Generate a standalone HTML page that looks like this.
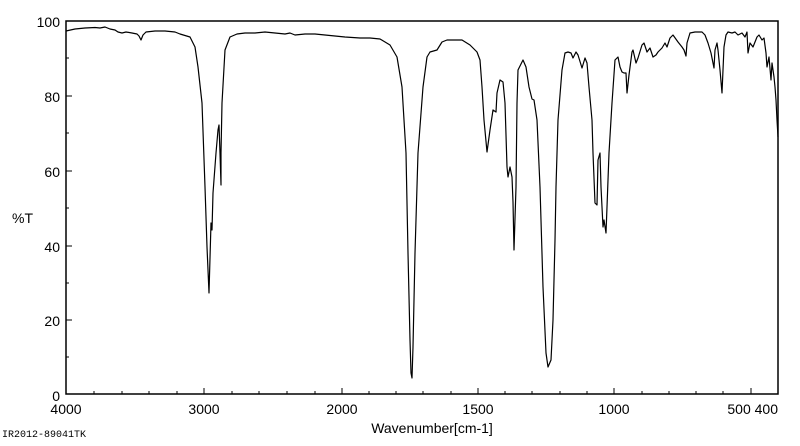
<!DOCTYPE html>
<html><head><meta charset="utf-8"><style>
body{margin:0;background:#fff;width:800px;height:441px;overflow:hidden}
svg text{font-family:"Liberation Sans",sans-serif;fill:#000}
</style></head><body>
<svg width="800" height="441" viewBox="0 0 800 441" xmlns="http://www.w3.org/2000/svg">
<rect x="66" y="21" width="712" height="373" fill="none" stroke="#000" stroke-width="1.5"/>
<g stroke="#000" stroke-width="1">
<!-- y ticks -->
<line x1="66" y1="96" x2="72" y2="96"/><line x1="66" y1="171" x2="72" y2="171"/><line x1="66" y1="246" x2="72" y2="246"/><line x1="66" y1="320" x2="72" y2="320"/>
<line x1="66" y1="58" x2="69" y2="58"/><line x1="66" y1="133" x2="69" y2="133"/><line x1="66" y1="208" x2="69" y2="208"/><line x1="66" y1="283" x2="69" y2="283"/><line x1="66" y1="357" x2="69" y2="357"/>
<!-- x major -->
<line x1="204" y1="394" x2="204" y2="388"/><line x1="342" y1="394" x2="342" y2="388"/><line x1="478" y1="394" x2="478" y2="388"/><line x1="614" y1="394" x2="614" y2="388"/><line x1="751" y1="394" x2="751" y2="388"/>
<!-- x minor -->
<line x1="94" y1="394" x2="94" y2="391"/><line x1="122" y1="394" x2="122" y2="391"/><line x1="149" y1="394" x2="149" y2="391"/><line x1="177" y1="394" x2="177" y2="391"/>
<line x1="232" y1="394" x2="232" y2="391"/><line x1="259" y1="394" x2="259" y2="391"/><line x1="287" y1="394" x2="287" y2="391"/><line x1="315" y1="394" x2="315" y2="391"/>
<line x1="369" y1="394" x2="369" y2="391"/><line x1="396" y1="394" x2="396" y2="391"/><line x1="423" y1="394" x2="423" y2="391"/><line x1="451" y1="394" x2="451" y2="391"/>
<line x1="505" y1="394" x2="505" y2="391"/><line x1="532" y1="394" x2="532" y2="391"/><line x1="560" y1="394" x2="560" y2="391"/><line x1="587" y1="394" x2="587" y2="391"/>
<line x1="642" y1="394" x2="642" y2="391"/><line x1="669" y1="394" x2="669" y2="391"/><line x1="696" y1="394" x2="696" y2="391"/><line x1="723" y1="394" x2="723" y2="391"/>
</g>
<g font-size="14">
<text x="60" y="27" text-anchor="end">100</text>
<text x="60" y="102" text-anchor="end">80</text>
<text x="60" y="177" text-anchor="end">60</text>
<text x="60" y="252" text-anchor="end">40</text>
<text x="60" y="326" text-anchor="end">20</text>
<text x="60" y="401" text-anchor="end">0</text>
<text x="12" y="223">%T</text>
<text x="66" y="414" text-anchor="middle">4000</text>
<text x="204" y="414" text-anchor="middle">3000</text>
<text x="342" y="414" text-anchor="middle">2000</text>
<text x="478" y="414" text-anchor="middle">1500</text>
<text x="614" y="414" text-anchor="middle">1000</text>
<text x="778" y="414" text-anchor="end">500 400</text>
<text x="432" y="433" text-anchor="middle">Wavenumber[cm-1]</text>
</g>
<text x="2" y="437" font-size="10" style="font-family:'Liberation Mono',monospace">IR2012-89041TK</text>
<polyline fill="none" stroke="#000" stroke-width="1.2" stroke-linejoin="round" points="
66,31 75,29 85,28 95,27.5 100,28 105,27 110,29 115,30 118,32 122,33 126,32 132,33 137,34 139,36 141,40 143,35 146,32 155,31 165,31 175,32 180,34 190,37 195,47 198,67 202,103 205,187 207,247 209,293 211,223 212,230 213,193 216,153 218,130 219,125 220,153 221,185 221,153 222,103 225,50 230,37 237,34
245,33 255,33 265,32 275,33 285,34 290,33 295,35 305,34 315,34 325,35 335,36 345,37 360,38 370,38 380,39
390,45 397,57 402,87 406,153 408,253 410,340 411,373 412,378 413,347 415,253 418,153 423,87 427,57 430,52 437,50 442,42 447,40 462,40 470,45 477,52 480,60 482,87 484,120 487,152 490,130 493,110 496,112 497,93 500,80 503,82 505,103 507,167 508,177 510,167 512,177 513,202 514,250 516,187 517,103 518,70 523,60 526,67 529,87 532,99 534,100 537,120 540,187 543,287 546,353 548,367 551,360 553,320 555,240 556,187 558,120 562,70 565,53 568,52 571,53 573,58 576,52 578,55 582,68 585,58 587,63 589,87 592,120 593,153 595,203 597,205 598,160 600,153 601,187 603,227 604,220 606,233 607,207 609,153 612,103 615,60 618,57 620,67 622,72 624,73 626,73 627,93 629,75 632,52 633,50 636,63 638,58 642,45 644,43 647,52 650,48 653,57 656,55 658,52 662,48 665,43 667,47 670,38 673,35 678,42 682,47 684,50 686,56 687,43 690,33 695,32 702,32 705,35 708,43 711,53 713,63 714,68 715,50 717,43 718,50 720,70 722,93 723,70 724,47 726,35 728,32 732,33 735,32 738,35 742,33 745,37 747,32 748,53 750,43 753,47 755,42 757,37 759,35 762,40 764,38 766,53 767,67 769,57 771,80 772,63 774,77 775,87 776,100 777,120 778,137"/>
</svg>
</body></html>
